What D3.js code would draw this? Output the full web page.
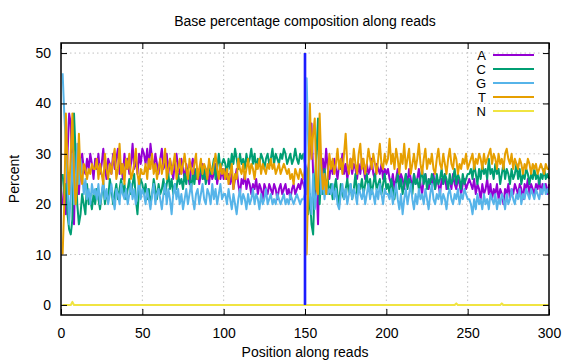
<!DOCTYPE html>
<html><head><meta charset="utf-8">
<script src="https://cdn.jsdelivr.net/npm/d3@7"></script>
<style>
html,body{margin:0;padding:0;background:#fff;}
svg text{font-family:"Liberation Sans",Arial,sans-serif;}
</style></head>
<body><svg id="chart" width="576" height="360"></svg>
<script>
const title = "Base percentage composition along reads";
const xLabel = "Position along reads";
const yLabel = "Percent";
const xTicks = [0, 50, 100, 150, 200, 250, 300];
const yTicks = [0, 10, 20, 30, 40, 50];
const bases = ["A", "C", "G", "T", "N"];
const colors = ["#9400d3", "#009e73", "#56b4e9", "#e69f00", "#f0e442"];
const readBoundary = 150;

const A = [
 20,24,18,30,38,36,24,16,30,26,22,28,30,27,26,29,27,30,28,25,
 29,27,30,26,28,31,27,25,29,28,26,30,27,29,31,26,28,25,30,27,29,26,28,32,27,29,26,30,28,31,
 30,28,31,27,32,29,27,30,28,26,29,31,27,28,30,26,29,27,25,28,30,27,26,29,27,25,28,26,24,27,29,26,25,27,24,26,28,25,27,26,24,27,25,26,28,24,26,25,27,25,
 27,25,26,24,26,23,25,27,24,22,25,24,26,23,25,24,22,24,23,25,22,24,23,21,24,23,22,24,23,22,24,23,21,23,24,22,23,24,22,23,21,23,24,22,23,24,23,25,24,23,
 22,27,30,36,26,20,25,16,30,24,29,26,31,27,25,
 28,26,29,27,25,28,27,30,26,28,25,27,29,26,28,27,25,28,26,29,27,25,28,26,27,29,26,25,28,27,26,28,25,27,26,
 27,25,24,26,23,25,27,24,26,25,23,26,24,27,25,23,26,24,25,27,24,22,25,26,24,23,25,24,26,23,25,24,22,25,24,26,23,24,25,23,26,24,23,25,24,22,24,25,23,24,
 25,24,23,25,22,24,23,21,24,22,23,25,22,24,21,23,22,24,21,23,22,20,23,22,24,21,23,22,24,23,22,24,23,21,24,23,25,22,24,23,22,24,23,25,22,24,23,24,22,24
];
const C = [
 26,22,24,18,15,14,17,38,30,20,16,18,22,20,18,24,20,21,19,22,
 20,23,21,19,22,24,20,22,21,25,23,20,22,24,21,23,25,22,24,21,23,25,22,24,26,21,18,23,25,24,
 22,24,21,23,20,22,25,23,21,24,22,23,25,22,24,26,23,25,22,24,23,26,24,25,23,26,24,27,25,23,26,24,27,25,26,28,25,27,24,26,28,26,27,29,25,27,30,27,28,29,
 28,26,29,27,30,28,31,29,27,30,28,29,27,30,28,29,31,28,30,27,29,28,30,29,27,29,30,28,29,31,28,30,29,28,30,29,31,30,28,29,30,28,29,31,29,28,30,29,30,28,
 27,18,22,16,14,24,30,37,20,26,22,27,23,25,22,
 24,21,23,25,22,20,24,22,21,23,25,22,24,21,23,26,22,24,23,25,22,24,26,23,25,22,24,26,23,24,25,22,24,26,23,
 24,22,25,23,21,24,26,23,25,22,24,26,23,25,24,22,26,24,25,23,25,27,24,26,23,25,24,26,25,23,26,24,25,27,24,26,25,23,26,24,25,27,24,26,25,23,26,24,25,26,
 26,27,25,28,26,24,27,25,28,26,27,25,29,26,27,25,28,26,27,24,26,28,25,27,26,24,27,25,26,28,25,27,24,26,25,27,26,24,26,25,27,25,26,24,26,25,27,25,26,25
];
const G = [
 46,38,32,24,16,22,30,20,24,32,24,29,26,22,25,21,23,20,24,22,
 23,21,24,20,22,25,21,23,20,22,24,21,19,23,22,20,24,22,21,23,20,22,24,21,23,20,22,25,21,23,
 22,20,23,21,19,22,24,20,22,23,21,19,22,24,20,23,21,18,22,24,21,23,20,22,19,21,23,20,22,24,21,19,22,23,20,22,24,21,20,23,22,20,24,21,23,20,22,24,21,22,
 22,20,23,21,19,22,20,18,21,23,20,22,21,19,22,20,21,23,20,22,21,19,22,20,21,23,20,21,22,20,21,20,22,21,20,21,22,20,21,20,22,21,20,21,22,21,20,21,21,22,
 45,32,22,18,26,19,22,24,31,22,26,21,24,22,23,
 22,24,21,23,20,19,22,24,21,23,20,22,24,21,23,22,20,24,22,21,23,20,22,24,21,23,22,20,23,21,24,22,20,23,22,
 22,21,23,20,22,24,21,19,22,18,21,23,20,22,24,21,19,22,20,23,21,22,20,23,21,19,22,24,21,20,22,21,23,20,22,21,19,22,23,21,20,22,21,23,20,22,21,23,22,21,
 21,20,18,21,19,22,20,21,19,22,20,21,19,22,21,20,22,19,21,20,22,21,19,22,20,21,23,21,20,22,21,23,20,22,21,23,22,21,23,22,21,23,22,21,23,22,24,22,23,22
];
const T = [
 10,20,38,28,22,30,38,26,20,24,34,26,24,28,27,25,27,26,28,27,
 27,29,25,28,26,24,30,27,25,28,26,29,31,25,27,32,26,28,24,29,27,30,25,26,28,31,26,24,27,26,
 26,28,25,29,27,30,26,28,25,27,29,26,28,31,25,27,29,26,28,30,25,27,29,26,28,30,27,25,29,27,26,28,30,25,27,29,26,28,27,25,29,27,26,28,30,27,25,28,26,27,
 25,27,24,26,28,23,26,25,29,27,26,28,25,27,29,26,28,27,25,28,27,29,26,28,27,26,28,27,29,27,28,26,27,28,26,27,28,27,26,27,25,26,24,27,26,25,27,26,25,27,
 10,24,40,29,34,37,23,22,38,28,23,26,22,26,30,
 27,29,26,28,31,27,29,26,30,34,28,26,29,27,31,28,26,30,32,27,29,26,28,31,29,27,30,28,26,29,32,28,27,30,28,
 29,33,28,30,27,31,29,26,30,28,32,27,29,31,26,28,30,27,29,32,28,26,29,31,27,29,28,30,27,26,29,31,28,27,30,28,26,29,31,28,27,30,29,26,28,27,29,28,30,27,
 28,29,30,27,29,28,30,29,27,30,28,29,30,31,28,30,29,27,30,28,29,27,30,31,29,28,30,27,29,28,27,29,28,26,28,27,29,28,26,28,27,28,26,27,28,27,26,28,27,27
];
// N is ~0 everywhere, with small bumps
const nBumps = {7: 0.6, 243: 0.3, 271: 0.3};
const N = d3.range(1, 301).map(p => nBumps[p] || 0);

const series = [A, C, G, T, N];

const svg = d3.select("#chart");
const m = {left: 61, right: 549, top: 43, bottom: 315};
const x = d3.scaleLinear().domain([0, 300]).range([m.left, m.right]);
const y = d3.scaleLinear().domain([-2, 52]).range([m.bottom, m.top]);
const fs = 14;

// grid
const grid = svg.append("g");
grid.selectAll("line.gx").data(xTicks.filter(t => t > 0 && t < 300)).join("line")
  .attr("x1", d => x(d)).attr("x2", d => x(d)).attr("y1", m.top).attr("y2", m.bottom)
  .attr("stroke", "#c0c0c0").attr("stroke-width", 1).attr("stroke-dasharray", "1.5,3");
grid.selectAll("line.gy").data(yTicks).join("line")
  .attr("x1", m.left).attr("x2", m.right).attr("y1", d => y(d)).attr("y2", d => y(d))
  .attr("stroke", "#c0c0c0").attr("stroke-width", 1).attr("stroke-dasharray", "1.5,3");

// series lines
const line = d3.line().x((d, i) => x(i + 1)).y(d => y(d));
const lines = svg.append("g").attr("fill", "none").attr("stroke-width", 2).attr("stroke-linejoin", "round");
series.forEach((s, k) => {
  lines.append("path").datum(s).attr("d", line).attr("stroke", colors[k]);
});

// read boundary
svg.append("line")
  .attr("x1", x(readBoundary)).attr("x2", x(readBoundary))
  .attr("y1", y(0)).attr("y2", y(50))
  .attr("stroke", "#6f6fff").attr("stroke-width", 3);
svg.append("line")
  .attr("x1", x(readBoundary)).attr("x2", x(readBoundary))
  .attr("y1", y(0)).attr("y2", y(50))
  .attr("stroke", "#0000ff").attr("stroke-width", 1.5);

// axes with inward ticks on all sides
const tickLen = 6;
const axB = d3.axisBottom(x).tickValues(xTicks).tickSizeInner(-tickLen).tickSizeOuter(0).tickPadding(13);
const axT = d3.axisTop(x).tickValues(xTicks).tickSizeInner(-tickLen).tickSizeOuter(0).tickFormat("");
const axL = d3.axisLeft(y).tickValues(yTicks).tickSizeInner(-tickLen).tickSizeOuter(0).tickPadding(10);
const axR = d3.axisRight(y).tickValues(yTicks).tickSizeInner(-tickLen).tickSizeOuter(0).tickFormat("");
function style(g) {
  g.select(".domain").remove();
  g.selectAll("line").attr("stroke", "#000").attr("stroke-width", 1);
  g.selectAll("text").attr("fill", "#000").style("font-size", fs + "px")
    .style("font-family", '"Liberation Sans", Arial, sans-serif');
}
svg.append("g").attr("transform", `translate(0,${m.bottom})`).call(axB).call(style);
svg.append("g").attr("transform", `translate(0,${m.top})`).call(axT).call(style);
svg.append("g").attr("transform", `translate(${m.left},0)`).call(axL).call(style);
svg.append("g").attr("transform", `translate(${m.right},0)`).call(axR).call(style);

// frame
svg.append("rect").attr("x", m.left).attr("y", m.top)
  .attr("width", m.right - m.left).attr("height", m.bottom - m.top)
  .attr("fill", "none").attr("stroke", "#000").attr("stroke-width", 1.5);

// legend
const leg = svg.append("g");
bases.forEach((b, k) => {
  const cy = 55 + k * 14;
  leg.append("text").attr("x", 486).attr("y", cy).attr("dy", "0.35em")
    .attr("text-anchor", "end").style("font-size", "13px").text(b);
  leg.append("line").attr("x1", 493).attr("x2", 534).attr("y1", cy).attr("y2", cy)
    .attr("stroke", colors[k]).attr("stroke-width", 2);
});

// titles
svg.append("text").attr("x", (m.left + m.right) / 2).attr("y", 26)
  .attr("text-anchor", "middle").style("font-size", fs + "px").text(title);
svg.append("text").attr("x", (m.left + m.right) / 2).attr("y", 357)
  .attr("text-anchor", "middle").style("font-size", fs + "px").text(xLabel);
svg.append("text").attr("transform", `translate(19,${(m.top + m.bottom) / 2}) rotate(-90)`)
  .attr("text-anchor", "middle").style("font-size", fs + "px").text(yLabel);
</script></body></html>
